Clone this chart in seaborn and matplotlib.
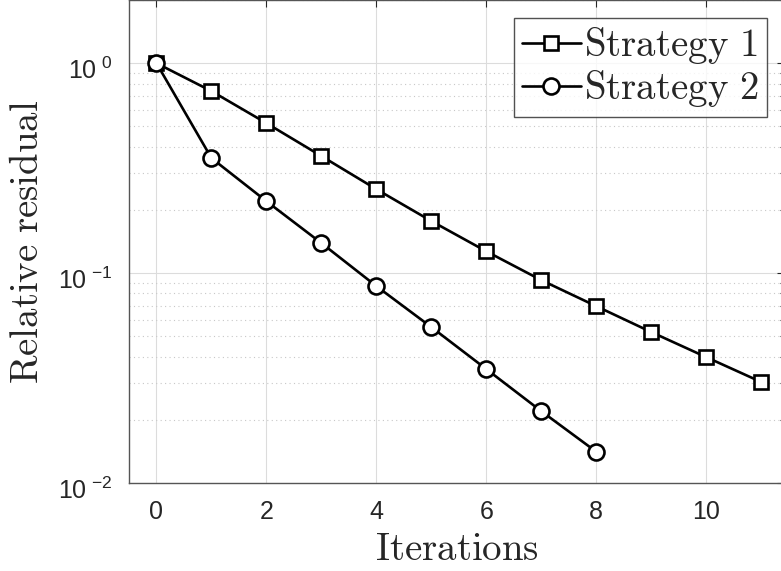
import numpy as np
import pandas as pd
import seaborn as sns
import matplotlib.pyplot as plt
from matplotlib.ticker import LogLocator, NullFormatter
from matplotlib.transforms import ScaledTranslation

# Relative residual per iteration for both strategies
iters_1 = list(range(12))
resid_1 = [1.0, 0.736, 0.518, 0.361, 0.251, 0.177, 0.127, 0.0926, 0.0696, 0.0524, 0.0398, 0.0303]
iters_2 = list(range(9))
resid_2 = [1.0, 0.353, 0.220, 0.139, 0.0867, 0.0553, 0.0349, 0.0220, 0.0141]
x_ticks = [0, 2, 4, 6, 8, 10]
y_ticks = [0.01, 0.1, 1.0]
y_tick_labels = [r'$\mathdefault{10}^{\;\mathdefault{-2}}$',
                 r'$\mathdefault{10}^{\;\mathdefault{-1}}$',
                 r'$\mathdefault{10}^{\;\mathdefault{0}}$']

df1 = pd.DataFrame({'Iterations': iters_1, 'Residual': resid_1})
df2 = pd.DataFrame({'Iterations': iters_2, 'Residual': resid_2})

sns.set_style('white')
plt.rcParams['font.family'] = ['Liberation Sans', 'DejaVu Sans']
plt.rcParams['mathtext.fontset'] = 'cm'

fig = plt.figure(figsize=(7.81, 5.71), dpi=100)
ax = fig.add_axes([129 / 781, 88 / 571, 1.004 - 129 / 781, 1 - 88 / 571])

line_kw = dict(color='black', linewidth=1.9, markerfacecolor='white',
               markeredgecolor='black', markeredgewidth=1.9)
sns.lineplot(data=df1, x='Iterations', y='Residual', marker='s', markersize=9.5,
             label='Strategy 1', ax=ax, **line_kw)
sns.lineplot(data=df2, x='Iterations', y='Residual', marker='o', markersize=11.5,
             label='Strategy 2', ax=ax, **line_kw)

ax.set_yscale('log')
ax.set_xlim(-0.5, 11.42)
ax.set_ylim(0.01, 2.0)
ax.set_xticks(x_ticks)
ax.set_yticks(y_ticks)
ax.set_yticklabels(y_tick_labels)
ax.yaxis.set_minor_locator(LogLocator(base=10, subs=np.arange(2, 10), numticks=10))
ax.yaxis.set_minor_formatter(NullFormatter())

# MATLAB-like grid: solid major, dotted minor
ax.grid(True, which='major', color='#dcdcdc', linewidth=0.8, linestyle='-')
ax.grid(True, which='minor', axis='y', color='#c8c8c8', linewidth=0.8, linestyle=(0, (1, 3)))
ax.set_axisbelow(True)

for s in ax.spines.values():
    s.set_color('#555555')
    s.set_linewidth(1.0)
ax.tick_params(which='both', direction='in', top=True, right=True, colors='#262626',
               labelsize=18, width=0.8)
ax.tick_params(which='major', length=5)
ax.tick_params(axis='y', which='major', pad=12)
ax.tick_params(axis='x', which='major', pad=12)
ax.tick_params(which='minor', length=3)

# push the y tick labels down a little, as in the original
shift = ScaledTranslation(0, -5 / 100, fig.dpi_scale_trans)
for lbl in ax.get_yticklabels():
    lbl.set_transform(lbl.get_transform() + shift)

ax.set_xlabel(r'$\mathrm{Iterations}$', fontsize=28, labelpad=6)
ax.set_ylabel(r'$\mathrm{Relative\ residual}$', fontsize=28, labelpad=9)

leg = ax.legend(loc='upper right', frameon=True, fancybox=False,
                handlelength=1.5, handletextpad=0.1, borderpad=0.2,
                labelspacing=0.05, borderaxespad=0.45, prop={'family': 'serif', 'size': 28})
leg.get_frame().set_edgecolor('#262626')
leg.get_frame().set_linewidth(1.0)
for t in leg.get_texts():
    t.set_text(r'$\mathrm{' + t.get_text().replace(' ', r'\ ') + '}$')

plt.savefig('out.png', dpi=100)
